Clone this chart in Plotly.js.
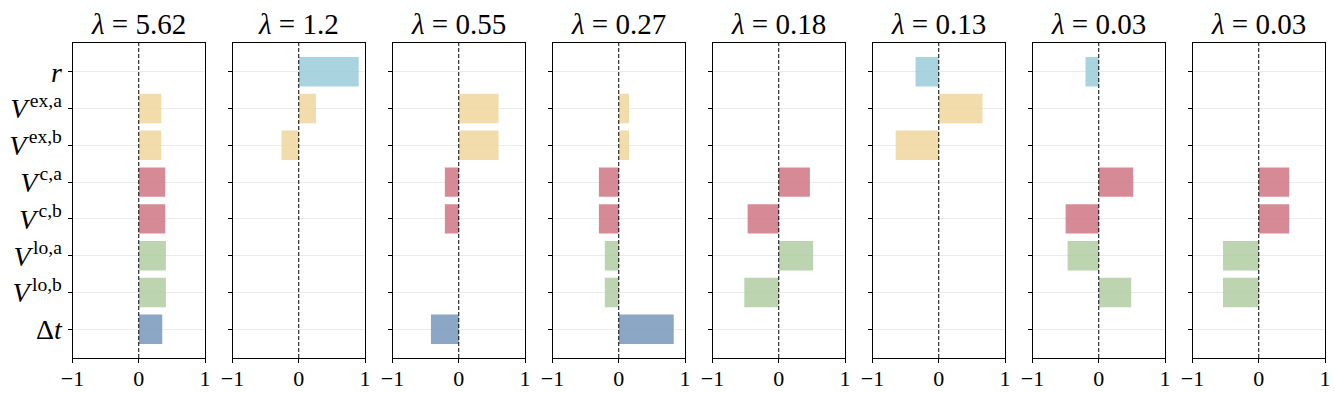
<!DOCTYPE html>
<html>
<head>
<meta charset="utf-8">
<script src="https://cdn.plot.ly/plotly-3.0.1.min.js"></script>
<style>html,body{margin:0;padding:0;background:#fff;}#chart{width:1335px;height:393px;}</style>
</head>
<body>
<div id="chart"></div>
<script>
// ---- data ----
const categories = ['r', 'Vex,a', 'Vex,b', 'Vc,a', 'Vc,b', 'Vlo,a', 'Vlo,b', 'Δt'];
const categoryLabels = ['<i>r</i>', '<i>V</i>&#8202;<sup>ex,a</sup>', '<i>V</i>&#8202;<sup>ex,b</sup>', '<i>V</i>&#8202;<sup>c,a</sup>',
  '<i>V</i>&#8202;<sup>c,b</sup>', '<i>V</i>&#8202;<sup>lo,a</sup>', '<i>V</i>&#8202;<sup>lo,b</sup>', 'Δ<i>t</i>'];
const lambdas = ['5.62', '1.2', '0.55', '0.27', '0.18', '0.13', '0.03', '0.03'];
const p1 = [0, 0.34, 0.34, 0.40, 0.40, 0.41, 0.41, 0.355];
const p2 = [0.905, 0.26, -0.26, 0, 0, 0, 0, 0];
const p3 = [0, 0.60, 0.60, -0.21, -0.21, 0, 0, -0.42];
const p4 = [0, 0.155, 0.155, -0.30, -0.30, -0.21, -0.21, 0.83];
const p5 = [0, 0, 0, 0.47, -0.47, 0.52, -0.52, 0];
const p6 = [-0.35, 0.66, -0.65, 0, 0, 0, 0, 0];
const p7 = [-0.20, 0, 0, 0.52, -0.50, -0.47, 0.49, 0];
const p8 = [0, 0, 0, 0.46, 0.46, -0.54, -0.54, 0];
const panels = [p1, p2, p3, p4, p5, p6, p7, p8];
const xTicks = [-1, 0, 1];

// ---- style ----
const barColors = ['rgba(153,203,217,0.85)', 'rgba(241,214,157,0.85)', 'rgba(241,214,157,0.85)',
  'rgba(206,118,130,0.85)', 'rgba(206,118,130,0.85)', 'rgba(176,204,162,0.85)', 'rgba(176,204,162,0.85)',
  'rgba(120,150,187,0.85)'];
const W = 1335, H = 393;
const font = 'Liberation Serif, DejaVu Serif, serif';
const panelLeft0 = 72.5, panelStep = 160, panelW = 132.5;
const plotTop = 43, plotBottom = 358;

const traces = [];
const layout = {
  width: W, height: H,
  margin: {l: 0, r: 0, t: 0, b: 0},
  paper_bgcolor: '#fff', plot_bgcolor: '#fff',
  showlegend: false,
  font: {family: font, color: '#000'},
  shapes: [], annotations: []
};

panels.forEach((vals, i) => {
  const k = i === 0 ? '' : String(i + 1);
  const xa = 'x' + k, ya = 'y' + k;
  traces.push({
    type: 'bar', orientation: 'h',
    x: vals, y: categories,
    xaxis: xa, yaxis: ya,
    width: 0.8,
    marker: {color: barColors, line: {width: 0}},
    hoverinfo: 'x+y'
  });
  const x0 = (panelLeft0 + i * panelStep) / W;
  const x1 = (panelLeft0 + i * panelStep + panelW) / W;
  layout['xaxis' + k] = {
    domain: [x0, x1], anchor: ya, range: [-1, 1],
    tickvals: xTicks, ticktext: xTicks.map(v => v < 0 ? '−' + Math.abs(v) : String(v)),
    ticks: 'outside', ticklen: 4, tickwidth: 1, tickcolor: '#000',
    ticklabelstandoff: -3,
    showgrid: false, zeroline: false,
    showline: true, linecolor: '#000', linewidth: 1, mirror: true,
    tickfont: {family: font, size: 22, color: '#000'}, fixedrange: true
  };
  layout['yaxis' + k] = {
    domain: [1 - plotBottom / H, 1 - plotTop / H], anchor: xa,
    type: 'category', categoryorder: 'array', categoryarray: categories,
    range: [7.78, -0.78],
    tickvals: categories, ticktext: categoryLabels, showticklabels: i === 0,
    ticks: 'outside', ticklen: 4, tickwidth: 1, tickcolor: '#000',
    showgrid: true, gridcolor: '#ebebeb', gridwidth: 1, zeroline: false,
    showline: true, linecolor: '#000', linewidth: 1, mirror: true,
    tickfont: {family: font, size: 28, color: '#000'}, fixedrange: true
  };
  layout.shapes.push({
    type: 'line', xref: xa, yref: ya + ' domain', x0: 0, x1: 0, y0: 0, y1: 1,
    line: {color: '#000', width: 1, dash: '4px,2px'}, layer: 'above'
  });
  layout.annotations.push({
    xref: 'paper', yref: 'paper', x: (x0 + x1) / 2, y: 1 - plotTop / H + 0.002,
    xanchor: 'center', yanchor: 'bottom', showarrow: false,
    text: '<i>λ</i> = ' + lambdas[i], font: {family: font, size: 29, color: '#000'}
  });
});

Plotly.newPlot('chart', traces, layout, {displayModeBar: false, staticPlot: true});
</script>
</body>
</html>
